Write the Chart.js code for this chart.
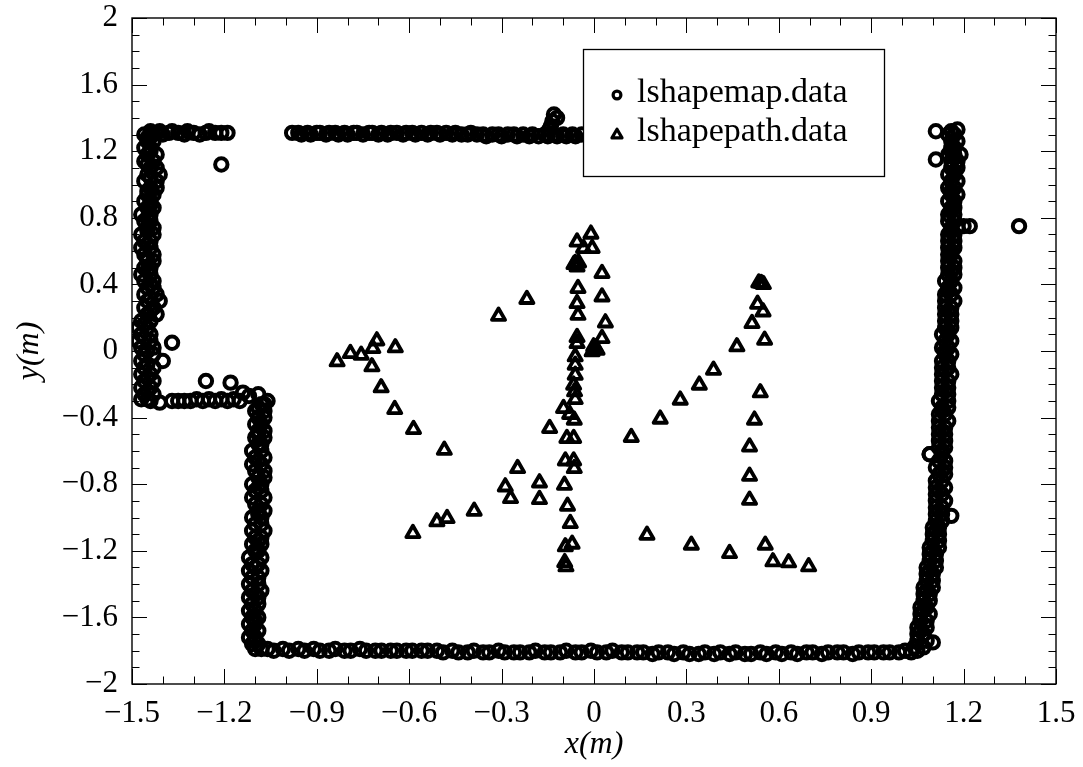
<!DOCTYPE html>
<html>
<head>
<meta charset="utf-8">
<script src="https://cdn.jsdelivr.net/npm/chart.js@4.4.1/dist/chart.umd.min.js"></script>
<style>
  html, body { margin: 0; padding: 0; background: #fff; }
  canvas { display: block; }
</style>
</head>
<body>
<canvas id="plot" width="1083" height="767"></canvas>
<script>
// ---- lshapemap.data : laser map of the L-shaped room (x, y in metres) ----
const mapTopLeft = [
  [-1.44,1.32],[-1.43,1.30],[-1.42,1.31],[-1.41,1.32],[-1.40,1.30],[-1.38,1.31],[-1.37,1.32],
  [-1.35,1.31],[-1.33,1.30],[-1.32,1.32],[-1.30,1.31],[-1.28,1.30],[-1.26,1.31],[-1.25,1.32],
  [-1.23,1.31],[-1.21,1.31],[-1.19,1.31]
];
const mapTopWall = [
  [-0.98,1.31],[-0.96,1.31],[-0.95,1.30],[-0.93,1.31],[-0.92,1.30],[-0.90,1.31],[-0.89,1.31],
  [-0.87,1.30],[-0.86,1.31],[-0.84,1.31],[-0.83,1.30],[-0.81,1.31],[-0.80,1.30],[-0.78,1.31],
  [-0.77,1.31],[-0.75,1.30],[-0.73,1.31],[-0.72,1.31],[-0.70,1.30],[-0.69,1.31],[-0.67,1.30],
  [-0.66,1.31],[-0.64,1.31],[-0.62,1.30],[-0.61,1.31],[-0.59,1.31],[-0.58,1.30],[-0.56,1.31],
  [-0.54,1.30],[-0.53,1.31],[-0.51,1.31],[-0.50,1.30],[-0.48,1.31],[-0.46,1.30],[-0.45,1.31],
  [-0.43,1.30],[-0.41,1.30],[-0.40,1.31],[-0.38,1.30],[-0.36,1.30],[-0.35,1.29],[-0.33,1.30],
  [-0.31,1.30],[-0.30,1.29],[-0.28,1.30],[-0.26,1.30],[-0.25,1.29],[-0.23,1.30],[-0.21,1.29],
  [-0.20,1.30],[-0.18,1.29],[-0.16,1.30],[-0.15,1.29],[-0.13,1.30],[-0.12,1.29],[-0.10,1.30],
  [-0.09,1.29],[-0.07,1.30],[-0.06,1.29],[-0.04,1.30],
  [-0.145,1.33],[-0.14,1.35],[-0.135,1.38],[-0.12,1.40],[-0.13,1.42]
];
const mapLeftWall = [
  [-1.46,1.30],[-1.44,1.30],[-1.45,1.26],[-1.43,1.26],[-1.46,1.22],[-1.44,1.22],[-1.45,1.18],[-1.42,1.18],
  [-1.46,1.14],[-1.43,1.14],[-1.44,1.10],[-1.42,1.10],[-1.45,1.06],[-1.41,1.06],[-1.46,1.02],[-1.42,1.02],
  [-1.44,0.98],[-1.42,0.98],[-1.45,0.94],[-1.43,0.94],[-1.46,0.90],[-1.44,0.90],[-1.45,0.86],[-1.43,0.86],
  [-1.47,0.82],[-1.44,0.82],[-1.46,0.78],[-1.44,0.78],[-1.45,0.74],[-1.43,0.74],[-1.47,0.70],[-1.43,0.70],
  [-1.46,0.66],[-1.44,0.66],[-1.47,0.62],[-1.44,0.62],[-1.46,0.58],[-1.43,0.58],[-1.45,0.54],[-1.43,0.54],
  [-1.46,0.50],[-1.44,0.50],[-1.47,0.46],[-1.44,0.46],[-1.46,0.42],[-1.43,0.42],[-1.45,0.38],[-1.43,0.38],
  [-1.46,0.34],[-1.42,0.34],[-1.45,0.30],[-1.41,0.30],[-1.46,0.26],[-1.43,0.26],[-1.45,0.22],[-1.42,0.22],
  [-1.47,0.18],[-1.44,0.18],[-1.48,0.14],[-1.45,0.14],[-1.47,0.10],[-1.44,0.10],[-1.48,0.06],[-1.44,0.06],
  [-1.47,0.02],[-1.43,0.02],[-1.46,-0.02],[-1.43,-0.02],[-1.47,-0.06],[-1.40,-0.06],[-1.46,-0.10],[-1.43,-0.10],
  [-1.47,-0.14],[-1.44,-0.14],[-1.46,-0.18],[-1.43,-0.18],[-1.47,-0.22],[-1.44,-0.22],[-1.46,-0.26],[-1.43,-0.26],
  [-1.47,-0.29],[-1.45,-0.29],
  [-1.45,1.28],[-1.44,1.20],[-1.45,1.12],[-1.44,1.04],[-1.45,0.96],[-1.44,0.88],[-1.45,0.80],[-1.45,0.72],
  [-1.45,0.64],[-1.45,0.56],[-1.45,0.48],[-1.44,0.40],[-1.44,0.32],[-1.44,0.24],[-1.46,0.16],[-1.46,0.08],
  [-1.45,0.00],[-1.45,-0.08],[-1.45,-0.16],[-1.45,-0.24]
];
const mapStep = [
  [-1.44,-0.30],[-1.41,-0.31],[-1.37,-0.30],[-1.35,-0.30],[-1.33,-0.30],[-1.31,-0.30],[-1.29,-0.29],
  [-1.27,-0.30],[-1.25,-0.29],[-1.23,-0.30],[-1.21,-0.29],[-1.19,-0.30],[-1.17,-0.29],[-1.15,-0.30],
  [-1.14,-0.25],[-1.12,-0.27],[-1.09,-0.26],[-1.06,-0.30]
];
const mapInnerWall = [
  [-1.08,-0.32],[-1.07,-0.32],[-1.10,-0.36],[-1.07,-0.36],[-1.09,-0.40],[-1.07,-0.40],[-1.10,-0.44],[-1.08,-0.44],
  [-1.09,-0.48],[-1.07,-0.48],[-1.10,-0.52],[-1.07,-0.52],[-1.09,-0.56],[-1.08,-0.56],[-1.11,-0.60],[-1.08,-0.60],
  [-1.10,-0.64],[-1.07,-0.64],[-1.11,-0.68],[-1.08,-0.68],[-1.10,-0.72],[-1.07,-0.72],[-1.09,-0.76],[-1.07,-0.76],
  [-1.11,-0.80],[-1.08,-0.80],[-1.10,-0.84],[-1.08,-0.84],[-1.11,-0.88],[-1.07,-0.88],[-1.10,-0.92],[-1.08,-0.92],
  [-1.09,-0.96],[-1.07,-0.96],[-1.11,-1.00],[-1.08,-1.00],[-1.10,-1.04],[-1.08,-1.04],[-1.11,-1.08],[-1.07,-1.08],
  [-1.10,-1.12],[-1.08,-1.12],[-1.11,-1.16],[-1.08,-1.16],[-1.10,-1.20],[-1.09,-1.20],[-1.12,-1.24],[-1.08,-1.24],
  [-1.11,-1.28],[-1.09,-1.28],[-1.12,-1.32],[-1.08,-1.32],[-1.11,-1.36],[-1.09,-1.36],[-1.12,-1.40],[-1.09,-1.40],
  [-1.11,-1.44],[-1.08,-1.44],[-1.12,-1.48],[-1.09,-1.48],[-1.11,-1.52],[-1.09,-1.52],[-1.12,-1.56],[-1.10,-1.56],
  [-1.11,-1.60],[-1.09,-1.60],[-1.12,-1.64],[-1.10,-1.64],[-1.11,-1.68],[-1.09,-1.68],[-1.12,-1.72],[-1.10,-1.72],
  [-1.11,-1.76],[-1.09,-1.76],[-1.10,-1.79],[-1.08,-1.79],
  [-1.09,-0.34],[-1.09,-0.50],[-1.09,-0.66],[-1.09,-0.82],[-1.09,-0.98],[-1.09,-1.14],[-1.10,-1.30],
  [-1.10,-1.46],[-1.10,-1.62],[-1.10,-1.74]
];
const mapBottomWall = [
  [-1.06,-1.79],[-1.04,-1.80],[-1.01,-1.79],[-0.99,-1.80],[-0.96,-1.79],[-0.94,-1.80],[-0.91,-1.79],[-0.89,-1.80],
  [-0.86,-1.80],[-0.84,-1.79],[-0.81,-1.80],[-0.79,-1.80],[-0.76,-1.79],[-0.74,-1.80],[-0.71,-1.80],[-0.69,-1.80],
  [-0.66,-1.80],[-0.64,-1.80],[-0.61,-1.80],[-0.59,-1.80],[-0.56,-1.80],[-0.54,-1.80],[-0.51,-1.80],[-0.49,-1.81],
  [-0.46,-1.80],[-0.44,-1.81],[-0.41,-1.81],[-0.39,-1.80],[-0.36,-1.81],[-0.34,-1.81],[-0.31,-1.80],[-0.29,-1.81],
  [-0.26,-1.81],[-0.24,-1.81],[-0.21,-1.81],[-0.19,-1.80],[-0.16,-1.81],[-0.14,-1.81],[-0.11,-1.81],[-0.09,-1.80],
  [-0.06,-1.81],[-0.04,-1.81],[-0.01,-1.80],[0.01,-1.81],[0.04,-1.81],[0.06,-1.80],[0.09,-1.81],[0.11,-1.81],
  [0.14,-1.81],[0.16,-1.81],[0.19,-1.82],[0.21,-1.81],[0.24,-1.81],[0.26,-1.82],[0.29,-1.81],[0.31,-1.82],
  [0.34,-1.82],[0.36,-1.81],[0.39,-1.82],[0.41,-1.81],[0.44,-1.82],[0.46,-1.81],[0.49,-1.82],[0.51,-1.82],
  [0.54,-1.81],[0.56,-1.82],[0.59,-1.81],[0.61,-1.82],[0.64,-1.81],[0.66,-1.82],[0.69,-1.81],[0.71,-1.81],
  [0.74,-1.82],[0.76,-1.81],[0.79,-1.81],[0.81,-1.81],[0.84,-1.82],[0.86,-1.81],[0.89,-1.81],[0.91,-1.81],
  [0.94,-1.81],[0.96,-1.81],[0.99,-1.81],[1.01,-1.80],[1.03,-1.81],[1.05,-1.80]
];
const mapRightWall = [
  [1.04,-1.78],[1.07,-1.78],[1.05,-1.74],[1.08,-1.74],[1.10,-1.75],[1.05,-1.70],[1.07,-1.70],[1.05,-1.66],
  [1.08,-1.66],[1.06,-1.62],[1.08,-1.62],[1.06,-1.58],[1.09,-1.58],[1.06,-1.54],[1.08,-1.54],[1.07,-1.50],
  [1.09,-1.50],[1.07,-1.46],[1.09,-1.46],[1.07,-1.42],[1.10,-1.42],[1.08,-1.38],[1.10,-1.38],[1.08,-1.34],
  [1.10,-1.34],[1.08,-1.30],[1.11,-1.30],[1.09,-1.26],[1.11,-1.26],[1.09,-1.22],[1.11,-1.22],[1.09,-1.18],
  [1.12,-1.18],[1.10,-1.14],[1.12,-1.14],[1.10,-1.10],[1.12,-1.10],[1.10,-1.06],[1.12,-1.06],[1.11,-1.02],
  [1.13,-1.02],[1.11,-0.98],[1.13,-0.98],[1.16,-0.99],[1.11,-0.94],[1.13,-0.94],[1.11,-0.90],[1.14,-0.90],
  [1.11,-0.86],[1.13,-0.86],[1.11,-0.82],[1.14,-0.82],[1.11,-0.78],[1.13,-0.78],[1.12,-0.74],[1.14,-0.74],
  [1.11,-0.70],[1.14,-0.70],[1.12,-0.66],[1.14,-0.66],[1.09,-0.62],[1.13,-0.62],[1.12,-0.58],[1.14,-0.58],
  [1.12,-0.54],[1.14,-0.54],[1.12,-0.50],[1.14,-0.50],[1.12,-0.46],[1.14,-0.46],[1.12,-0.42],[1.15,-0.42],
  [1.12,-0.38],[1.14,-0.38],[1.13,-0.34],[1.15,-0.34],[1.12,-0.30],[1.15,-0.30],[1.13,-0.26],[1.15,-0.26],
  [1.13,-0.22],[1.15,-0.22],[1.13,-0.18],[1.15,-0.18],[1.13,-0.14],[1.16,-0.14],[1.13,-0.10],[1.15,-0.10],
  [1.13,-0.06],[1.15,-0.06],[1.14,-0.02],[1.16,-0.02],[1.13,0.02],[1.15,0.02],[1.14,0.06],[1.16,0.06],
  [1.13,0.10],[1.15,0.10],[1.14,0.14],[1.16,0.14],[1.14,0.18],[1.16,0.18],[1.14,0.22],[1.16,0.22],
  [1.14,0.26],[1.16,0.26],[1.14,0.30],[1.17,0.30],[1.14,0.34],[1.16,0.34],[1.15,0.38],[1.17,0.38],
  [1.14,0.42],[1.16,0.42],[1.15,0.46],[1.17,0.46],[1.15,0.50],[1.17,0.50],[1.15,0.54],[1.17,0.54],
  [1.15,0.58],[1.16,0.58],[1.15,0.62],[1.17,0.62],[1.15,0.66],[1.17,0.66],[1.15,0.70],[1.17,0.70],
  [1.16,0.74],[1.18,0.74],[1.15,0.78],[1.17,0.78],[1.15,0.82],[1.17,0.82],[1.16,0.86],[1.17,0.86],
  [1.15,0.90],[1.17,0.90],[1.16,0.94],[1.18,0.94],[1.15,0.98],[1.17,0.98],[1.16,1.02],[1.18,1.02],
  [1.15,1.06],[1.17,1.06],[1.16,1.10],[1.18,1.10],[1.16,1.14],[1.18,1.14],[1.15,1.18],[1.17,1.18],
  [1.16,1.22],[1.17,1.22],[1.16,1.26],[1.18,1.26],[1.15,1.30],[1.17,1.30],[1.16,1.32],[1.18,1.33],
  [1.06,-1.68],[1.07,-1.56],[1.08,-1.44],[1.09,-1.32],[1.10,-1.20],[1.11,-1.08],[1.12,-0.96],[1.12,-0.84],
  [1.13,-0.72],[1.13,-0.60],[1.13,-0.48],[1.13,-0.36],[1.14,-0.24],[1.14,-0.12],[1.14,0.00],[1.15,0.12],
  [1.15,0.24],[1.15,0.36],[1.16,0.48],[1.16,0.60],[1.16,0.72],[1.16,0.84],[1.16,0.96],[1.17,1.08],[1.16,1.20]
];
const mapStray = [
  [-1.21,1.12],[-1.37,0.05],[-1.26,-0.18],[-1.18,-0.19],
  [1.11,1.32],[1.11,1.15],[1.19,1.18],[1.20,0.75],[1.22,0.75],[1.38,0.75],[1.09,-0.62]
];

// ---- lshapepath.data : estimated robot positions ----
const pathWest = [
  [-0.834,-0.064],[-0.791,-0.014],[-0.756,-0.024],[-0.718,0.016],[-0.705,0.062],[-0.645,0.020],
  [-0.721,-0.094],[-0.691,-0.220],[-0.647,-0.350],[-0.586,-0.470],[-0.486,-0.595],
  [-0.588,-1.095],[-0.510,-1.025],[-0.477,-1.005],[-0.389,-0.961],[-0.288,-0.815],[-0.271,-0.885],
  [-0.248,-0.705],[-0.177,-0.791],[-0.177,-0.891],[-0.144,-0.464],[-0.218,0.311],[-0.310,0.210]
];
const pathCentre = [
  [-0.055,0.656],[-0.010,0.703],[-0.034,0.617],[-0.006,0.617],[-0.061,0.527],[-0.055,0.506],
  [-0.065,0.520],[-0.050,0.530],[0.026,0.467],[-0.052,0.377],[0.026,0.326],[-0.055,0.286],
  [-0.052,0.216],[0.037,0.170],[-0.055,0.082],[-0.055,0.046],[0.026,0.076],[-0.001,0.026],
  [0.010,0.006],[-0.006,-0.004],[0.000,0.010],[0.005,0.020],[-0.061,-0.034],[-0.061,-0.084],
  [-0.061,-0.144],[-0.066,-0.204],[-0.063,-0.244],[-0.061,-0.290],[-0.099,-0.344],[-0.079,-0.380],
  [-0.064,-0.414],[-0.088,-0.524],[-0.066,-0.524],[-0.093,-0.659],[-0.066,-0.659],[-0.064,-0.705],
  [-0.096,-0.805],[-0.086,-0.931],[-0.077,-1.035],[-0.093,-1.175],[-0.071,-1.159],[-0.091,-1.295],
  [-0.095,-1.270]
];
const pathEast = [
  [0.121,-0.518],[0.215,-0.408],[0.280,-0.294],[0.342,-0.204],[0.388,-0.114],[0.464,0.026],
  [0.513,0.166],[0.531,0.282],[0.549,0.236],[0.535,0.410],[0.543,0.407],[0.550,0.400],[0.554,0.066],
  [0.540,-0.250],[0.521,-0.414],[0.505,-0.575],[0.505,-0.751],[0.505,-0.895],
  [0.172,-1.105],[0.316,-1.165],[0.440,-1.215],[0.556,-1.165],[0.581,-1.265],[0.632,-1.271],[0.697,-1.295]
];

// ---- axes ----
const xTickValues = [-1.5,-1.2,-0.9,-0.6,-0.3,0,0.3,0.6,0.9,1.2,1.5];
const xTickLabels = ['\u22121.5','\u22121.2','\u22120.9','\u22120.6','\u22120.3','0','0.3','0.6','0.9','1.2','1.5'];
const yTickValues = [-2,-1.6,-1.2,-0.8,-0.4,0,0.4,0.8,1.2,1.6,2];
const yTickLabels = ['\u22122','\u22121.6','\u22121.2','\u22120.8','\u22120.4','0','0.4','0.8','1.2','1.6','2'];
const seriesNames = ['lshapemap.data', 'lshapepath.data'];

const asXY = list => list.map(([x, y]) => ({ x, y }));
const mapPoints = asXY([].concat(mapTopLeft, mapTopWall, mapLeftWall, mapStep,
                                 mapInnerWall, mapBottomWall, mapRightWall, mapStray));
const pathPoints = asXY([].concat(pathWest, pathCentre, pathEast));

const SERIF = "'Liberation Serif', 'Times New Roman', serif";

// frame with inward major/minor ticks on all four sides
const framePlugin = {
  id: 'frame',
  afterDatasetsDraw(chart) {
    const { ctx, chartArea: a, scales: { x, y } } = chart;
    ctx.save();
    ctx.strokeStyle = '#000';
    ctx.lineWidth = 1;
    ctx.beginPath();
    for (let k = -15; k <= 15; k++) {
      const px = Math.round(x.getPixelForValue(k / 10)) + 0.5;
      const len = (k % 3 === 0) ? 15 : 7.5;
      ctx.moveTo(px, a.bottom); ctx.lineTo(px, a.bottom - len);
      ctx.moveTo(px, a.top); ctx.lineTo(px, a.top + len);
    }
    for (let k = -20; k <= 20; k++) {
      const py = Math.round(y.getPixelForValue(k / 10)) + 0.5;
      const len = (k % 4 === 0) ? 15 : 7.5;
      ctx.moveTo(a.left, py); ctx.lineTo(a.left + len, py);
      ctx.moveTo(a.right, py); ctx.lineTo(a.right - len, py);
    }
    ctx.stroke();
    ctx.lineWidth = 1.4;
    ctx.strokeRect(a.left, a.top, a.right - a.left, a.bottom - a.top);
    ctx.restore();
  }
};

// boxed key in the upper right of the plot area
const keyPlugin = {
  id: 'key',
  afterDatasetsDraw(chart) {
    const { ctx } = chart;
    const bx = 583, by = 49, bw = 301, bh = 127;
    ctx.save();
    ctx.fillStyle = '#fff';
    ctx.fillRect(bx, by, bw, bh);
    ctx.strokeStyle = '#000';
    ctx.lineWidth = 1.3;
    ctx.strokeRect(bx + 0.5, by + 0.5, bw, bh);
    ctx.lineWidth = 3.2;
    ctx.lineJoin = 'round';
    // circle marker
    ctx.beginPath();
    ctx.arc(bx + 34, by + 46, 3.9, 0, Math.PI * 2);
    ctx.stroke();
    // triangle marker
    const tx = bx + 34, ty = by + 86, r = 5.8;
    ctx.beginPath();
    for (let i = 0; i < 3; i++) {
      const ang = i * 2 * Math.PI / 3;
      const px = tx + Math.sin(ang) * r, py = ty - Math.cos(ang) * r;
      if (i === 0) ctx.moveTo(px, py); else ctx.lineTo(px, py);
    }
    ctx.closePath();
    ctx.stroke();
    ctx.fillStyle = '#000';
    ctx.font = '34px ' + SERIF;
    ctx.textBaseline = 'alphabetic';
    ctx.textAlign = 'left';
    ctx.fillText(seriesNames[0], bx + 54, by + 53);
    ctx.fillText(seriesNames[1], bx + 54, by + 92);
    ctx.restore();
  }
};

// rounded corners on the markers
const joinPlugin = {
  id: 'roundJoin',
  beforeDatasetsDraw(chart) { chart.ctx.lineJoin = 'round'; },
  afterDatasetsDraw(chart) { chart.ctx.lineJoin = 'miter'; }
};

new Chart(document.getElementById('plot'), {
  type: 'scatter',
  data: {
    datasets: [
      {
        label: seriesNames[0],
        data: mapPoints,
        pointStyle: 'circle',
        pointRadius: 6.2,
        pointBorderWidth: 4.0,
        borderWidth: 4.0,
        borderColor: '#000',
        pointBorderColor: '#000',
        backgroundColor: 'rgba(0,0,0,0)',
        pointBackgroundColor: 'rgba(0,0,0,0)'
      },
      {
        label: seriesNames[1],
        data: pathPoints,
        pointStyle: 'triangle',
        pointRadius: 7.6,
        pointBorderWidth: 3.8,
        borderWidth: 3.8,
        borderColor: '#000',
        pointBorderColor: '#000',
        backgroundColor: 'rgba(0,0,0,0)',
        pointBackgroundColor: 'rgba(0,0,0,0)'
      }
    ]
  },
  options: {
    responsive: false,
    animation: false,
    devicePixelRatio: 1,
    events: [],
    layout: { padding: { top: 18, right: 27, left: 0, bottom: 0 } },
    plugins: { legend: { display: false }, tooltip: { enabled: false } },
    scales: {
      x: {
        type: 'linear',
        min: -1.5, max: 1.5,
        afterBuildTicks(scale) { scale.ticks = xTickValues.map(v => ({ value: v })); },
        afterFit(scale) { scale.height = 83; scale.paddingLeft = 0; scale.paddingRight = 0; },
        ticks: {
          autoSkip: false, maxRotation: 0,
          color: '#000',
          font: { family: SERIF, size: 31 },
          padding: 11,
          callback: (v, i) => xTickLabels[i]
        },
        grid: { display: false, drawTicks: false },
        border: { display: false },
        title: {
          display: true, text: 'x(m)', color: '#000',
          font: { family: SERIF, size: 32, style: 'italic' },
          padding: { top: 0, bottom: 3 }
        }
      },
      y: {
        type: 'linear',
        min: -2, max: 2,
        afterBuildTicks(scale) { scale.ticks = yTickValues.map(v => ({ value: v })); },
        afterFit(scale) { scale.width = 132; scale.paddingTop = 0; scale.paddingBottom = 0; },
        ticks: {
          autoSkip: false,
          color: '#000',
          font: { family: SERIF, size: 31 },
          padding: 14,
          callback: (v, i) => yTickLabels[i]
        },
        grid: { display: false, drawTicks: false },
        border: { display: false },
        title: {
          display: true, text: 'y(m)', color: '#000',
          font: { family: SERIF, size: 32, style: 'italic' },
          padding: { top: 10, bottom: 0 }
        }
      }
    }
  },
  plugins: [joinPlugin, framePlugin, keyPlugin]
});
</script>
</body>
</html>
